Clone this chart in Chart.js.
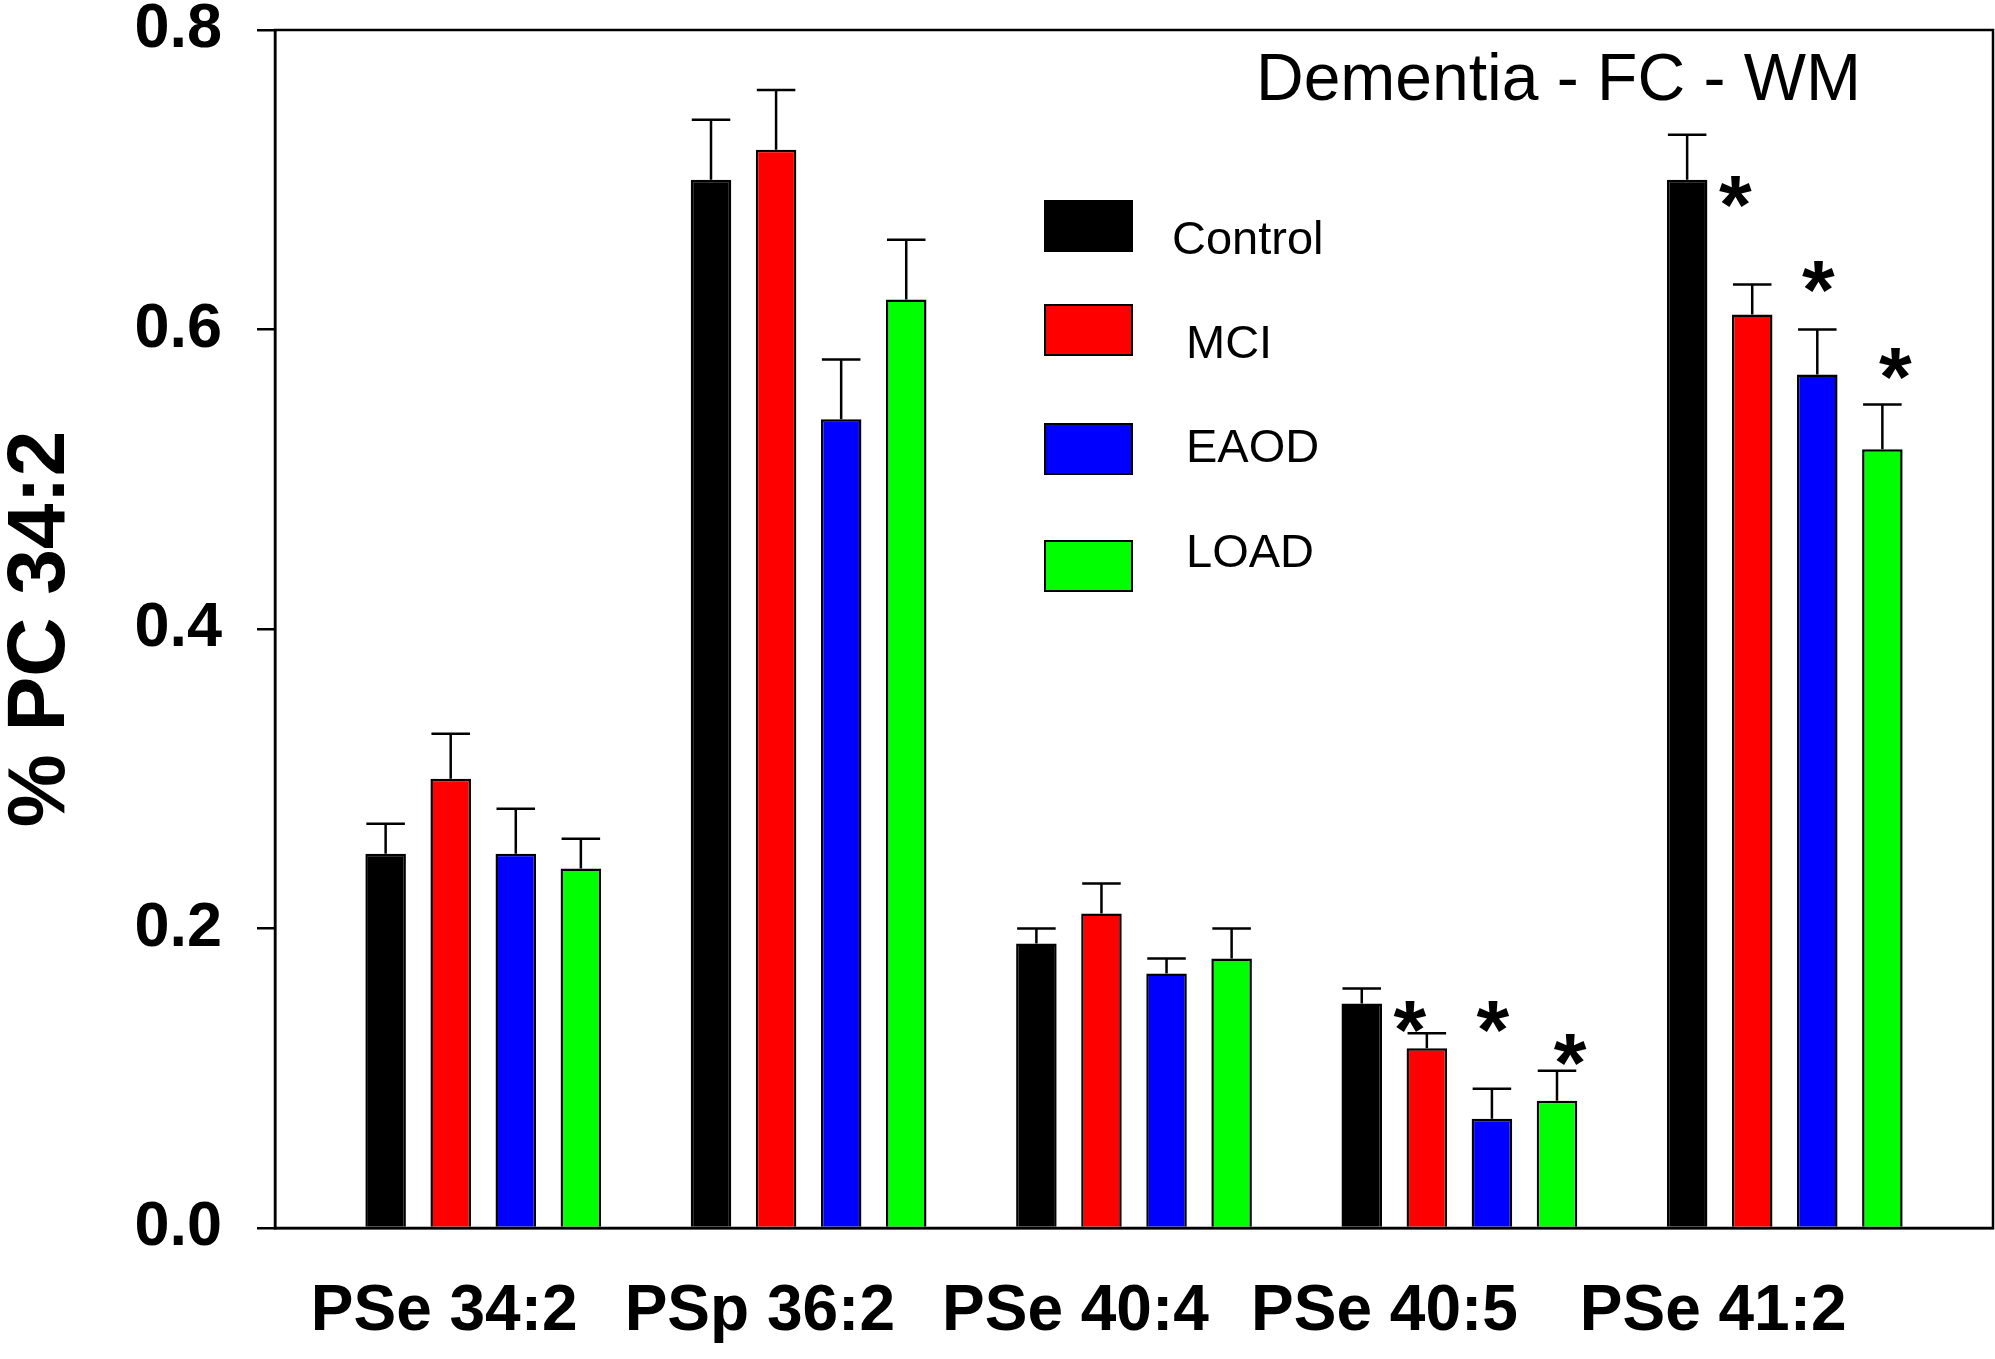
<!DOCTYPE html>
<html>
<head>
<meta charset="utf-8">
<script src="https://cdn.jsdelivr.net/npm/chart.js@4.4.1/dist/chart.umd.min.js"></script>
<style>
  html, body { margin: 0; padding: 0; background: #fff; }
  #wrap { width: 1995px; height: 1359px; }
</style>
</head>
<body>
<div id="wrap"><canvas id="myChart"></canvas></div>
<script>
const categories = ['PSe 34:2', 'PSp 36:2', 'PSe 40:4', 'PSe 40:5', 'PSe 41:2'];
const seriesNames = ['Control', 'MCI', 'EAOD', 'LOAD'];

// means
const controlMean = [0.25, 0.70, 0.19, 0.15, 0.70];
const mciMean     = [0.30, 0.72, 0.21, 0.12, 0.61];
const eaodMean    = [0.25, 0.54, 0.17, 0.073, 0.57];
const loadMean    = [0.24, 0.62, 0.18, 0.085, 0.52];

// upper error bars (SEM)
const controlErr = [0.02, 0.04, 0.01, 0.01, 0.03];
const mciErr     = [0.03, 0.04, 0.02, 0.01, 0.02];
const eaodErr    = [0.03, 0.04, 0.01, 0.02, 0.03];
const loadErr    = [0.02, 0.04, 0.02, 0.02, 0.03];

// significance stars, height in axis units (null = none)
const mciStars  = [null, null, null, 0.145, 0.696];
const eaodStars = [null, null, null, 0.145, 0.639];
const loadStars = [null, null, null, 0.123, 0.581];

const yTicks = [0.0, 0.2, 0.4, 0.6, 0.8];
const chartTitle = 'Dementia - FC - WM';
const yTitle = '% PC 34:2';

const FONT = '"Liberation Sans", Arial, Helvetica, sans-serif';
const colors = ['#000000', '#ff0000', '#0000ff', '#00ff00'];
const means = [controlMean, mciMean, eaodMean, loadMean];
const errs = [controlErr, mciErr, eaodErr, loadErr];
const stars = [null, mciStars, eaodStars, loadStars];
const starShift = [0, -17, 1, 13];
// the category labels sit a little left of their groups, more so to the right
const labelShift = [-0.12, -0.15, -0.18, -0.23, -0.22];
const X_MIN = 0.36, X_MAX = 5.64;

const datasets = seriesNames.map((name, s) => ({
  label: name,
  data: means[s].map((v, i) => ({ x: i + 1, y: v })),
  sem: errs[s],
  stars: stars[s],
  backgroundColor: colors[s],
  borderColor: '#000',
  borderWidth: 2.5,
  categoryPercentage: 0.8,
  barPercentage: 0.623
}));

// error bars (upper only) and asterisks
const errorBarPlugin = {
  id: 'errorBars',
  afterDatasetsDraw(chart) {
    const ctx = chart.ctx;
    const y = chart.scales.y;
    ctx.save();
    chart.data.datasets.forEach((ds, s) => {
      const meta = chart.getDatasetMeta(s);
      meta.data.forEach((bar, i) => {
        const top = y.getPixelForValue(ds.data[i].y + ds.sem[i]);
        const half = bar.width / 2 - 1;
        ctx.strokeStyle = '#000';
        ctx.lineWidth = 2.5;
        ctx.beginPath();
        ctx.moveTo(bar.x, bar.y);
        ctx.lineTo(bar.x, top);
        ctx.moveTo(bar.x - half, top);
        ctx.lineTo(bar.x + half, top);
        ctx.stroke();
        if (ds.stars && ds.stars[i] != null) {
          const size = 84;
          ctx.font = 'bold ' + size + 'px ' + FONT;
          ctx.fillStyle = '#000';
          ctx.textAlign = 'center';
          ctx.textBaseline = 'alphabetic';
          ctx.fillText('*', bar.x + starShift[s], y.getPixelForValue(ds.stars[i]) + size * 0.575);
        }
      });
    });
    ctx.restore();
  }
};

// frame, title and the boxed legend
const decorPlugin = {
  id: 'decor',
  afterDraw(chart) {
    const ctx = chart.ctx;
    const a = chart.chartArea;
    ctx.save();
    ctx.strokeStyle = '#000';
    ctx.lineWidth = 2.5;
    ctx.strokeRect(a.left, a.top, a.right - a.left, a.bottom - a.top);

    ctx.fillStyle = '#000';
    ctx.font = '66px ' + FONT;
    ctx.textAlign = 'left';
    ctx.textBaseline = 'alphabetic';
    ctx.fillText(chartTitle, 1256, 100);

    const boxTops = [201, 305, 424, 541];
    const textBase = [254, 358, 462, 567];
    const textX = [1172, 1186, 1186, 1186];
    seriesNames.forEach((name, s) => {
      ctx.fillStyle = colors[s];
      ctx.fillRect(1045, boxTops[s], 87, 50);
      ctx.lineWidth = 2;
      ctx.strokeStyle = '#000';
      ctx.strokeRect(1045, boxTops[s], 87, 50);
      ctx.fillStyle = '#000';
      ctx.font = '47px ' + FONT;
      ctx.fillText(name, textX[s], textBase[s]);
    });
    ctx.restore();
  }
};

new Chart(document.getElementById('myChart'), {
  type: 'bar',
  data: { datasets },
  plugins: [errorBarPlugin, decorPlugin],
  options: {
    responsive: true,
    maintainAspectRatio: false,
    devicePixelRatio: 1,
    animation: false,
    events: [],
    layout: { padding: { top: 30, right: 2, left: 0, bottom: 0 } },
    plugins: {
      legend: { display: false },
      tooltip: { enabled: false }
    },
    scales: {
      // bars are placed on this one
      x: {
        type: 'linear',
        min: X_MIN,
        max: X_MAX,
        offset: false,
        display: false,
        afterBuildTicks: (scale) => {
          scale.ticks = categories.map((c, i) => ({ value: i + 1 }));
        }
      },
      // category labels, drawn slightly left of the groups
      xLabels: {
        type: 'linear',
        position: 'bottom',
        min: X_MIN,
        max: X_MAX,
        offset: false,
        afterBuildTicks: (scale) => {
          scale.ticks = categories.map((c, i) => ({ value: i + 1 + labelShift[i] }));
        },
        afterFit: (scale) => {
          scale.height = 131;
          scale.paddingLeft = 0;
          scale.paddingRight = 0;
        },
        ticks: {
          autoSkip: false,
          maxRotation: 0,
          minRotation: 0,
          padding: 46,
          color: '#000',
          font: { family: FONT, size: 64, weight: 'bold' },
          callback: (v, i) => categories[i]
        },
        grid: { drawOnChartArea: false, drawTicks: false },
        border: { display: true, color: '#000', width: 2.5 }
      },
      y: {
        min: 0,
        max: 0.8,
        afterBuildTicks: (scale) => {
          scale.ticks = yTicks.map(v => ({ value: v }));
        },
        afterFit: (scale) => {
          scale.width = 275;
          scale.paddingTop = 0;
          scale.paddingBottom = 0;
        },
        ticks: {
          padding: 35,
          color: '#000',
          font: { family: FONT, size: 63, weight: 'bold' },
          callback: (v) => v.toFixed(1)
        },
        grid: {
          drawOnChartArea: false,
          drawTicks: true,
          tickLength: 18,
          lineWidth: 2.5,
          color: '#000',
          tickColor: '#000',
          tickWidth: 2.5
        },
        border: { display: true, color: '#000', width: 2.5 },
        title: {
          display: true,
          text: yTitle,
          color: '#000',
          padding: 0,
          font: { family: FONT, size: 82, weight: 'bold', lineHeight: 1 }
        }
      }
    }
  }
});
</script>
</body>
</html>
